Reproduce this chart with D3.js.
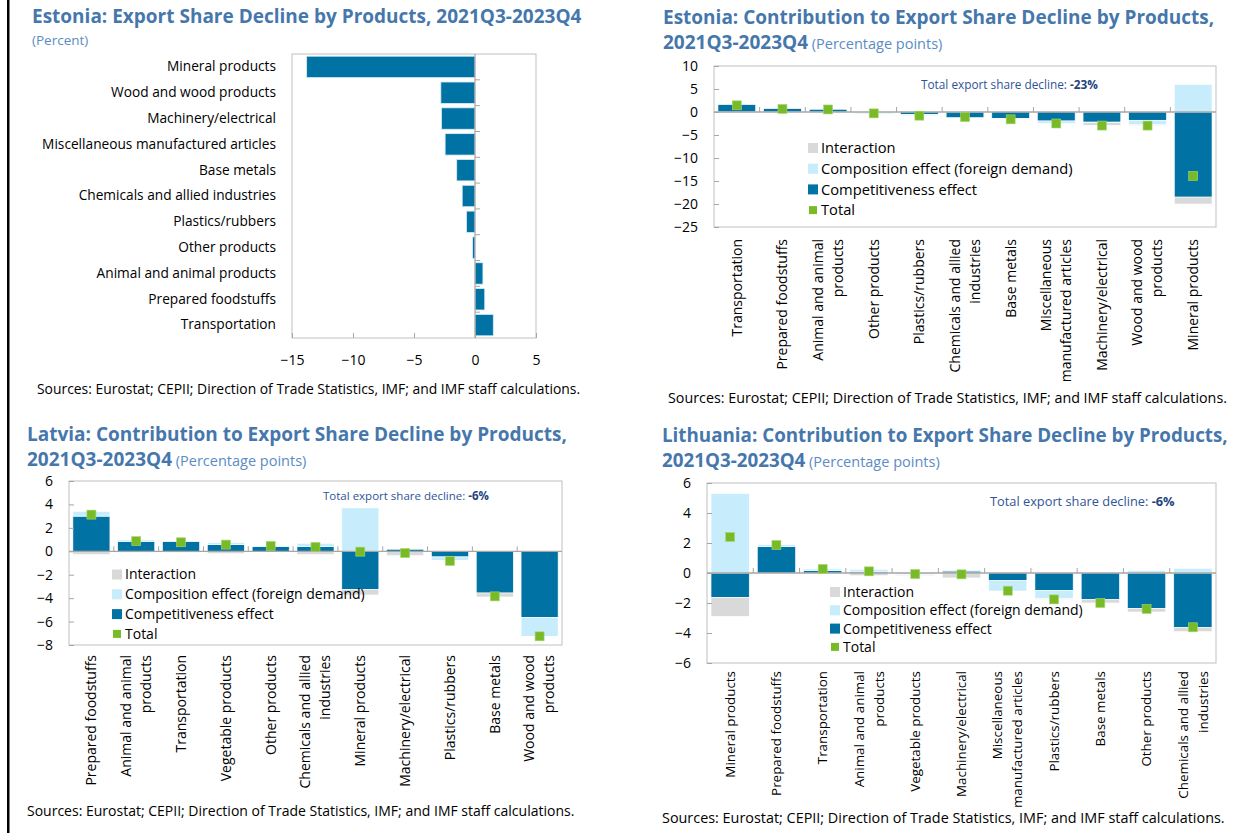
<!DOCTYPE html>
<html>
<head>
<meta charset="utf-8">
<script src="https://cdn.jsdelivr.net/npm/d3@7"></script>
<style>
  body { margin: 0; background: #fff; }
  text { font-family: "Open Sans", "Noto Sans", sans-serif; }
</style>
</head>
<body>
<div id="chart"></div>
<script>
// ---- data ----
// Estonia: export share decline by products (percent)
var estShareCats = ["Mineral products", "Wood and wood products", "Machinery/electrical",
  "Miscellaneous manufactured articles", "Base metals", "Chemicals and allied industries",
  "Plastics/rubbers", "Other products", "Animal and animal products", "Prepared foodstuffs", "Transportation"];
var estShareVals = [-13.8, -2.8, -2.75, -2.45, -1.5, -1.05, -0.7, -0.2, 0.65, 0.8, 1.5];

// Estonia: contribution (percentage points)
var estCats = ["Transportation", "Prepared foodstuffs", "Animal and animal\nproducts", "Other products",
  "Plastics/rubbers", "Chemicals and allied\nindustries", "Base metals", "Miscellaneous\nmanufactured articles",
  "Machinery/electrical", "Wood and wood\nproducts", "Mineral products"];
var estCompet = [1.6, 0.72, 0.58, -0.1, -0.5, -1.2, -1.45, -1.95, -2.2, -1.8, -18.5];
var estCompos = [-0.05, -0.05, -0.05, -0.3, -0.2, 0.1, -0.1, -0.5, -0.1, -1.0, 6.0];
var estInter = [-0.1, 0, 0, 0, -0.1, 0, -0.05, -0.05, -0.6, -0.1, -1.5];
var estTotal = [1.45, 0.67, 0.55, -0.3, -0.8, -1.1, -1.6, -2.5, -2.95, -2.95, -13.9];

// Latvia
var lvCats = ["Prepared foodstuffs", "Animal and animal\nproducts", "Transportation", "Vegetable products",
  "Other products", "Chemicals and allied\nindustries", "Mineral products", "Machinery/electrical",
  "Plastics/rubbers", "Base metals", "Wood and wood\nproducts"];
var lvCompet = [3.0, 0.85, 0.85, 0.57, 0.4, 0.4, -3.27, 0.17, -0.48, -3.56, -5.64];
var lvCompos = [0.4, 0.12, 0.02, 0.17, 0.08, 0.28, 3.7, 0, -0.32, 0, -1.65];
var lvInter = [-0.28, -0.1, -0.1, -0.2, -0.02, -0.28, -0.46, -0.37, -0.03, -0.34, -0.02];
var lvTotal = [3.13, 0.87, 0.77, 0.57, 0.46, 0.37, -0.03, -0.15, -0.83, -3.85, -7.26];

// Lithuania
var ltCats = ["Mineral products", "Prepared foodstuffs", "Transportation", "Animal and animal\nproducts",
  "Vegetable products", "Machinery/electrical", "Miscellaneous\nmanufactured articles", "Plastics/rubbers",
  "Base metals", "Other products", "Chemicals and allied\nindustries"];
var ltCompet = [-1.62, 1.76, 0.16, 0.11, 0.03, 0.13, -0.51, -1.16, -1.78, -2.36, -3.64];
var ltCompos = [5.29, 0.13, 0.11, 0.13, -0.12, 0.07, -0.69, -0.55, 0, 0.18, 0.31];
var ltInter = [-1.27, 0, 0, -0.18, -0.05, -0.33, 0, -0.05, -0.22, -0.24, -0.27];
var ltTotal = [2.4, 1.87, 0.27, 0.11, -0.07, -0.09, -1.18, -1.76, -2.0, -2.4, -3.62];

var legendNames = ["Interaction", "Composition effect (foreign demand)", "Competitiveness effect", "Total"];
var sourceText = "Sources: Eurostat; CEPII; Direction of Trade Statistics, IMF; and IMF staff calculations.";

// ---- style ----
var colCompet = "#0072a3", colCompos = "#c7ecfb", colInter = "#d9d9d9", colTotal = "#78bb26";
var titleCol = "#4677ac", subCol = "#5b8cc3", frameCol = "#c0c0c0", zeroCol = "#a6a6a6";

var svg = d3.select("#chart").append("svg")
  .attr("width", 1249)
  .attr("height", 833);

svg.append("rect").attr("x", 7).attr("y", 0).attr("width", 2.5).attr("height", 833).attr("fill", "#000");

function addTitle(x, y, size, line1, line2bold, line2rest) {
  svg.append("text").attr("x", x).attr("y", y)
    .attr("fill", titleCol).style("font-size", size + "px").style("font-weight", "bold")
    .text(line1);
  if (line2bold) {
    var t2 = svg.append("text").attr("x", x).attr("y", y + 25).attr("fill", titleCol);
    t2.append("tspan").style("font-size", size + "px").style("font-weight", "bold").text(line2bold);
    t2.append("tspan").style("font-size", "14.5px").attr("fill", subCol).text(" " + line2rest);
  }
}

function addSource(x, y, size) {
  svg.append("text").attr("x", x).attr("y", y).attr("fill", "#000")
    .style("font-size", size + "px").text(sourceText);
}

// ---- panel 1: Estonia horizontal bars ----
(function () {
  var left = 292, right = 536, top = 54, bottom = 338;
  var g = svg.append("g");
  var x = d3.scaleLinear().domain([-15, 5]).range([left, right]);
  var y = d3.scaleBand().domain(estShareCats).range([top, bottom]).paddingInner(0.17).paddingOuter(0.085);
  var yb = d3.scaleBand().domain(estShareCats).range([top, bottom]);

  g.append("rect").attr("x", left).attr("y", top).attr("width", right - left).attr("height", bottom - top)
    .attr("fill", "none").attr("stroke", frameCol);

  g.selectAll(".bar").data(estShareCats).enter().append("rect")
    .attr("x", function (d, i) { return x(Math.min(0, estShareVals[i])); })
    .attr("y", function (d) { return y(d); })
    .attr("width", function (d, i) { return Math.abs(x(estShareVals[i]) - x(0)); })
    .attr("height", y.bandwidth())
    .attr("fill", colCompet).attr("stroke", "#d8eef8").attr("stroke-width", 0.8);

  g.append("line").attr("x1", x(0)).attr("x2", x(0)).attr("y1", top).attr("y2", bottom)
    .attr("stroke", zeroCol).attr("stroke-width", 1.2);
  estShareCats.slice(1).forEach(function (d) {
    g.append("line").attr("x1", x(0)).attr("x2", x(0) + 5).attr("y1", yb(d)).attr("y2", yb(d))
      .attr("stroke", zeroCol);
  });

  var xAxis = g.append("g").attr("transform", "translate(0," + bottom + ")")
    .call(d3.axisBottom(x).tickValues([-15, -10, -5, 0, 5]).tickSizeInner(-5).tickSizeOuter(0).tickPadding(17));
  xAxis.select(".domain").remove();
  xAxis.selectAll("line").attr("stroke", zeroCol);
  xAxis.selectAll("text").style("font-size", "14px").style("font-family", "'Open Sans'").attr("fill", "#000");

  var yAxis = g.append("g").attr("transform", "translate(" + left + ",0)")
    .call(d3.axisLeft(yb).tickSize(0).tickPadding(16));
  yAxis.select(".domain").remove();
  yAxis.selectAll("text").style("font-size", "13.7px").style("font-family", "'Open Sans'").attr("fill", "#000");
})();

addTitle(32, 23, 19, "Estonia: Export Share Decline by Products, 2021Q3-2023Q4");
svg.append("text").attr("x", 32).attr("y", 45).attr("fill", subCol).style("font-size", "13.5px").text("(Percent)");
addSource(37, 394, 13.9);

// ---- stacked contribution panels ----
function stackedPanel(cfg) {
  var g = svg.append("g");
  var rows = cfg.cats.map(function (c, i) {
    return { cat: c, compet: cfg.compet[i], compos: cfg.compos[i], inter: cfg.inter[i], total: cfg.total[i] };
  });
  var x = d3.scaleBand().domain(cfg.cats).range([cfg.left, cfg.right]);
  var y = d3.scaleLinear().domain(cfg.domain).range([cfg.bottom, cfg.top]);
  var bw = x.bandwidth();

  g.append("rect").attr("x", cfg.left).attr("y", cfg.top).attr("width", cfg.right - cfg.left)
    .attr("height", cfg.bottom - cfg.top).attr("fill", "none").attr("stroke", frameCol);

  var series = d3.stack().keys(["compet", "compos", "inter"]).offset(d3.stackOffsetDiverging)(rows);
  var colors = { compet: colCompet, compos: colCompos, inter: colInter };

  g.selectAll(".layer").data(series).enter().append("g")
    .attr("fill", function (s) { return colors[s.key]; })
    .selectAll("rect").data(function (s) { return s; }).enter().append("rect")
    .attr("x", function (d) { return x(d.data.cat) + bw * 0.087; })
    .attr("width", bw * 0.826)
    .attr("y", function (d) { return y(Math.max(d[0], d[1])); })
    .attr("height", function (d) { return Math.abs(y(d[0]) - y(d[1])); })
    .attr("stroke", "#ffffff").attr("stroke-width", 0.6);

  g.append("line").attr("x1", cfg.left).attr("x2", cfg.right).attr("y1", y(0)).attr("y2", y(0))
    .attr("stroke", zeroCol).attr("stroke-width", 1.3);
  cfg.cats.slice(1).forEach(function (c) {
    g.append("line").attr("x1", x(c)).attr("x2", x(c)).attr("y1", y(0)).attr("y2", y(0) - 5)
      .attr("stroke", zeroCol);
  });

  g.selectAll(".tot").data(rows).enter().append("rect")
    .attr("x", function (d) { return x(d.cat) + bw / 2 - 4.5; })
    .attr("y", function (d) { return y(d.total) - 4.5; })
    .attr("width", 9).attr("height", 9)
    .attr("fill", colTotal).attr("stroke", "#a9d676").attr("stroke-width", 0.6);

  var yAxis = g.append("g").attr("transform", "translate(" + cfg.left + ",0)")
    .call(d3.axisLeft(y).tickValues(cfg.ticks).tickSizeInner(-5).tickSizeOuter(0).tickPadding(16));
  yAxis.select(".domain").remove();
  yAxis.selectAll("line").attr("stroke", zeroCol);
  yAxis.selectAll("text").style("font-size", "14px").style("font-family", "'Open Sans'").attr("fill", "#000");

  // category labels, rotated
  rows.forEach(function (d) {
    var lines = d.cat.split("\n");
    var lg = g.append("g")
      .attr("transform", "translate(" + (x(d.cat) + bw / 2) + "," + cfg.labelTop + ") rotate(-90)");
    lines.forEach(function (ln, k) {
      lg.append("text").attr("x", 0).attr("y", (k - (lines.length - 1) / 2) * 20)
        .attr("dy", "0.35em").attr("text-anchor", "end").style("font-size", cfg.labelFont + "px")
        .attr("fill", "#000").text(ln);
    });
  });

  // legend
  var lgColors = [colInter, colCompos, colCompet, colTotal];
  legendNames.forEach(function (name, k) {
    var cy = cfg.legY + k * cfg.legStep;
    var s = k === 3 ? 8 : 10;
    g.append("rect").attr("x", cfg.legX + (10 - s) / 2).attr("y", cy - s / 2).attr("width", s).attr("height", s)
      .attr("fill", lgColors[k]);
    g.append("text").attr("x", cfg.legX + 13).attr("y", cy).attr("dy", "0.35em")
      .style("font-size", cfg.legFont + "px").attr("fill", "#000").text(name);
  });

  // annotation
  var a = g.append("text").attr("x", cfg.noteX).attr("y", cfg.noteY).attr("dy", "0.35em")
    .style("font-size", cfg.noteFont + "px").attr("fill", "#2f5496");
  a.append("tspan").text("Total export share decline: ");
  a.append("tspan").style("font-weight", "bold").attr("fill", "#23427a").text(cfg.note);
}

stackedPanel({
  cats: estCats, compet: estCompet, compos: estCompos, inter: estInter, total: estTotal,
  left: 714, right: 1216, top: 66, bottom: 227, domain: [-25, 10], ticks: [10, 5, 0, -5, -10, -15, -20, -25],
  labelTop: 239, labelFont: 14, legX: 808, legY: 148, legStep: 20.7, legFont: 14.7,
  noteX: 921, noteY: 85, noteFont: 11.8, note: "-23%"
});
addTitle(663, 24, 19, "Estonia: Contribution to Export Share Decline by Products,", "2021Q3-2023Q4", "(Percentage points)");
addSource(668, 403, 14.3);

stackedPanel({
  cats: lvCats, compet: lvCompet, compos: lvCompos, inter: lvInter, total: lvTotal,
  left: 69, right: 562, top: 481, bottom: 645, domain: [-8, 6], ticks: [6, 4, 2, 0, -2, -4, -6, -8],
  labelTop: 655, labelFont: 14, legX: 112, legY: 574.5, legStep: 19.8, legFont: 14,
  noteX: 323, noteY: 495.5, noteFont: 11.5, note: "-6%"
});
addTitle(27, 441, 19, "Latvia: Contribution to Export Share Decline by Products,", "2021Q3-2023Q4", "(Percentage points)");
addSource(27, 816, 14);

stackedPanel({
  cats: ltCats, compet: ltCompet, compos: ltCompos, inter: ltInter, total: ltTotal,
  left: 707, right: 1216, top: 483, bottom: 663, domain: [-6, 6], ticks: [6, 4, 2, 0, -2, -4, -6],
  labelTop: 671, labelFont: 13.4, legX: 830, legY: 592, legStep: 18.3, legFont: 14,
  noteX: 990, noteY: 501.5, noteFont: 12.8, note: "-6%"
});
addTitle(662, 442, 18.8, "Lithuania: Contribution to Export Share Decline by Products,", "2021Q3-2023Q4", "(Percentage points)");
addSource(662, 823, 14.4);
</script>
</body>
</html>
